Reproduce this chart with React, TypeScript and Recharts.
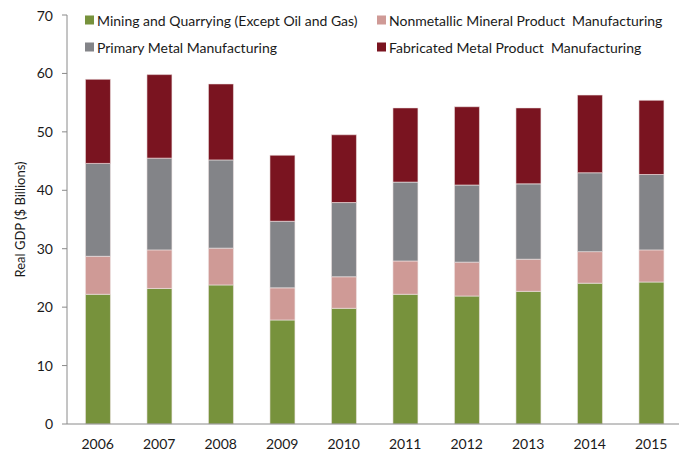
import { BarChart, Bar, XAxis, YAxis } from "recharts";

const years = ["2006", "2007", "2008", "2009", "2010", "2011", "2012", "2013", "2014", "2015"];
const mining = [22.2, 23.2, 23.8, 17.8, 19.8, 22.2, 21.9, 22.7, 24.1, 24.3];
const nonmetallic = [6.5, 6.6, 6.3, 5.5, 5.4, 5.7, 5.8, 5.5, 5.4, 5.5];
const primary = [15.9, 15.7, 15.1, 11.4, 12.7, 13.5, 13.2, 12.9, 13.5, 12.9];
const fabricated = [14.4, 14.3, 13.0, 11.3, 11.6, 12.7, 13.4, 13.0, 13.3, 12.7];
const yTicks = [0, 10, 20, 30, 40, 50, 60, 70];

const series = [
  { key: "mining", name: "Mining and Quarrying (Except Oil and Gas)", color: "#77923C" },
  { key: "nonmetallic", name: "Nonmetallic Mineral Product  Manufacturing", color: "#CF9A96" },
  { key: "primary", name: "Primary Metal Manufacturing", color: "#838488" },
  { key: "fabricated", name: "Fabricated Metal Product  Manufacturing", color: "#7A1420" },
];

const data = years.map((year, i) => ({
  year,
  mining: mining[i],
  nonmetallic: nonmetallic[i],
  primary: primary[i],
  fabricated: fabricated[i],
}));

// tick marks sit between the categories, so a hidden numeric axis draws them
const edgeTicks = years.map((_, i) => i).concat(years.length);

const font = "Lato, 'Open Sans', sans-serif";
const axisColor = "#8a8a8a";

function LegendBox() {
  // order in the picture: row 1 = mining, nonmetallic; row 2 = primary, fabricated
  const pos = [
    { left: 77, top: 12 },
    { left: 369, top: 12 },
    { left: 77, top: 38.5 },
    { left: 369, top: 38.5 },
  ];
  return (
    <div style={{ position: "absolute", left: 0, top: 0 }}>
      {series.map((s, i) => (
        <div
          key={s.key}
          style={{
            position: "absolute",
            left: pos[i].left,
            top: pos[i].top,
            transform: "translateY(-50%)",
            display: "flex",
            alignItems: "center",
            whiteSpace: "pre",
            fontFamily: font,
            fontSize: 14,
            color: "#1a1a1a",
          }}
        >
          <span style={{ width: 9, height: 9, background: s.color, marginRight: 3 }} />
          {s.name}
        </div>
      ))}
    </div>
  );
}

export default function App() {
  return (
    <div style={{ position: "relative", width: 679, height: 444 }}>
      <BarChart
        width={679}
        height={444}
        data={data}
        margin={{ top: 7, right: 5, left: 0, bottom: 0 }}
        barCategoryGap="30%"
      >
        <XAxis
          xAxisId="edges"
          type="number"
          domain={[0, years.length]}
          ticks={edgeTicks}
          allowDataOverflow
          height={0}
          axisLine={false}
          tickSize={5}
          tickFormatter={() => ""}
          stroke={axisColor}
        />
        <XAxis
          dataKey="year"
          height={28}
          tickLine={false}
          tickSize={5}
          tickMargin={10}
          stroke={axisColor}
          tick={{ fill: "#1a1a1a", fontSize: 14, fontFamily: font }}
        />
        <YAxis
          domain={[0, 70]}
          ticks={yTicks}
          width={59}
          tickSize={5}
          tickMargin={9}
          stroke={axisColor}
          tick={{ fill: "#1a1a1a", fontSize: 14, fontFamily: font }}
          label={{
            content: ({ viewBox }: any) => (
              <text
                x={12}
                y={viewBox.y + viewBox.height / 2}
                transform={`rotate(-90, 12, ${viewBox.y + viewBox.height / 2})`}
                textAnchor="middle"
                dominantBaseline="central"
                fontSize={13}
                fontFamily={font}
                fill="#1a1a1a"
              >
                Real GDP ($ Billions)
              </text>
            ),
          }}
        />
        {series.map((s) => (
          <Bar
            key={s.key}
            dataKey={s.key}
            name={s.name}
            stackId="gdp"
            fill={s.color}
            stroke="#f0e6e6"
            strokeWidth={0.6}
            isAnimationActive={false}
          />
        ))}
      </BarChart>
      <LegendBox />
    </div>
  );
}
